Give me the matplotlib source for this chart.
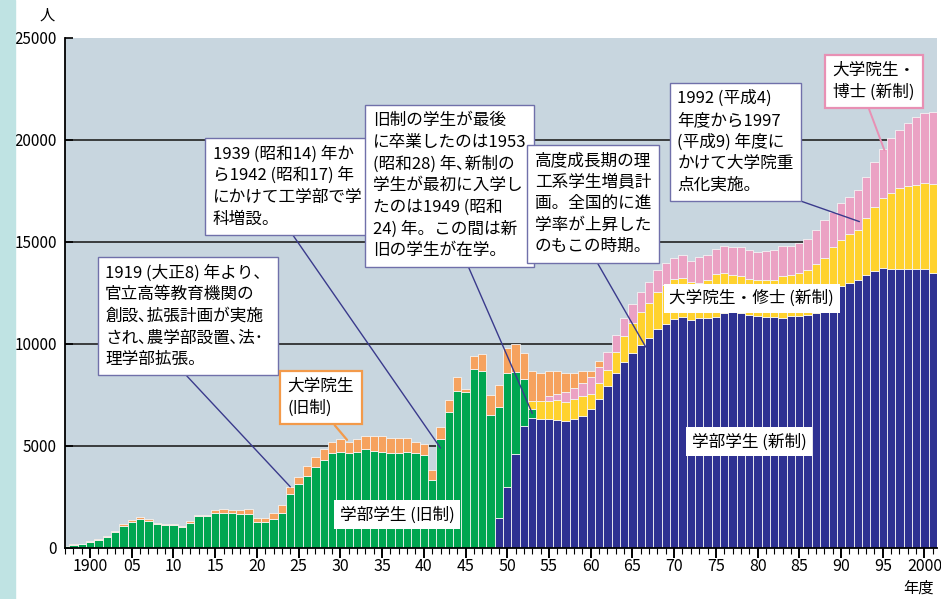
import numpy as np
import matplotlib
matplotlib.use("Agg")
import matplotlib.pyplot as plt
from matplotlib.patches import Rectangle

plt.rcParams['font.family'] = ['Noto Sans CJK JP', 'DejaVu Sans']

# 年度
years = np.arange(1897, 2002)

# 学部学生（旧制） 1897-1953
old_undergrad = [100, 150, 190, 290, 400, 520, 760, 1100, 1260, 1420,
                 1340, 1170, 1130, 1130, 1010, 1240, 1560, 1560, 1700, 1730,
                 1700, 1650, 1670, 1260, 1260, 1420, 1730, 2630, 3120, 3550,
                 3990, 4310, 4670, 4720, 4670, 4720, 4840, 4770, 4720, 4670,
                 4670, 4720, 4640, 4560, 3330, 5330, 6680, 7700, 7630, 8770,
                 8690, 6520, 5450, 5560, 4030, 2280, 450]
# 大学院生（旧制） 1897-1961
old_grad = [0, 30, 30, 40, 50, 60, 90, 100, 90, 80,
            60, 60, 50, 50, 50, 90, 70, 60, 180, 160,
            180, 190, 220, 230, 230, 280, 380, 370, 380, 490,
            450, 540, 540, 610, 540, 610, 650, 720, 770, 740,
            710, 660, 540, 520, 490, 590, 570, 700, 150, 640,
            800, 980, 1090, 1230, 1360, 1300, 1470, 1340, 1220, 1130,
            930, 760, 580, 310, 280]
# 学部学生（新制） 1949-2001
new_undergrad = [1450, 3000, 4610, 6000, 6360, 6310, 6310, 6270, 6230, 6310,
                 6470, 6800, 7290, 7960, 8590, 9130, 9540, 9950, 10280, 10720,
                 10980, 11230, 11310, 11180, 11260, 11290, 11310, 11540, 11580, 11500,
                 11420, 11370, 11340, 11340, 11260, 11370, 11370, 11420, 11540, 11600,
                 11750, 12850, 13000, 13150, 13400, 13600, 13750, 13700, 13700, 13680,
                 13700, 13680, 13500]
# 大学院生・修士（新制） 1953-2001
masters = [400, 910, 900, 980, 940, 980, 1000, 750, 780, 770,
           1030, 1260, 1470, 1630, 1710, 1850, 1910, 1940, 1910, 1850,
           1740, 1850, 2110, 1920, 1800, 1830, 1750, 1770, 1800, 1800,
           2070, 2010, 2090, 2200, 2400, 2600, 3020, 2250, 2380, 2440,
           2760, 3100, 3390, 3690, 3930, 4070, 4090, 4200, 4340]
# 大学院生・博士（新制） 1955-2001
doctors = [260, 300, 490, 540, 630, 820, 820, 890, 820, 870,
           950, 990, 1070, 1060, 1060, 1030, 1140, 1040, 1250, 1220,
           1220, 1340, 1360, 1410, 1440, 1350, 1420, 1470, 1470, 1420,
           1470, 1550, 1660, 1880, 1720, 1800, 1810, 1960, 2040, 2240,
           2400, 2690, 2860, 3070, 3350, 3460, 3550]

tick_years = list(range(1900, 2001, 5))
tick_labels = ['1900'] + ['%02d' % (y % 100) for y in tick_years[1:-1]] + ['2000']


def full(start, vals):
    a = np.zeros(len(years))
    i = start - years[0]
    a[i:i + len(vals)] = vals
    return a


# 積み上げ順：新制学部 → 旧制学部 → 修士 → 博士 → 旧制大学院
series = [
    (full(1949, new_undergrad), '#2e3192'),
    (full(1897, old_undergrad), '#00a651'),
    (full(1953, masters), '#ffd22e'),
    (full(1955, doctors), '#eba2c4'),
    (full(1897, old_grad), '#f6a25e'),
]

fig = plt.figure(figsize=(9.41, 5.99), dpi=100)
fig.patches.append(Rectangle((0, 0), 15 / 941, 1, transform=fig.transFigure,
                             color='#bfe3e3', zorder=0))
ax = fig.add_axes([65 / 941, 51 / 599, 872 / 941, 510 / 599])
ax.set_facecolor('#c8d6df')

bottom = np.zeros(len(years))
for vals, col in series:
    m = vals > 0
    ax.bar(years[m], vals[m], bottom=bottom[m], width=1.0, color=col,
           edgecolor='#f4f4f4', linewidth=0.6, zorder=2)
    bottom = bottom + vals

for g in [5000, 10000, 15000, 20000]:
    ax.axhline(g, color='#222222', lw=1.2, zorder=1)

ax.set_xlim(1897.0, 2001.5)
ax.set_ylim(0, 25000)
ax.set_yticks(range(0, 25001, 5000))
ax.set_yticklabels([str(v) for v in range(0, 25001, 5000)], fontsize=11)
ax.set_xticks(tick_years)
ax.set_xticklabels(tick_labels, fontsize=11.5)
ax.set_xticks(range(1897, 2002), minor=True)
ax.tick_params(axis='x', which='major', length=7, width=1.4, direction='out', pad=0)
ax.tick_params(axis='x', which='minor', length=4.5, width=0.8, direction='out')
ax.tick_params(axis='y', length=6, width=1.2, direction='in', pad=6)
for s in ['top', 'right']:
    ax.spines[s].set_visible(False)
for s in ['left', 'bottom']:
    ax.spines[s].set_linewidth(1.3)
    ax.spines[s].set_zorder(5)

fig.text(47 / 941, 1 - 15 / 599, '人', fontsize=11, ha='center', va='center')
fig.text(918 / 941, 1 - 588 / 599, '年度', fontsize=11, ha='center', va='center')

navy_box = dict(boxstyle='square,pad=0.45', fc='white', ec='#7070aa', lw=1.0)
line_kw = dict(arrowstyle='-', color='#3a3a8c', lw=1.0, shrinkA=0, shrinkB=0)
txt_kw = dict(fontsize=12, ha='left', va='top', linespacing=1.35, zorder=6)

ax.annotate('1919 (大正8) 年より、\n官立高等教育機関の\n創設､拡張計画が実施\nされ､農学部設置､法･\n理学部拡張。',
            xy=(1924, 3000), xytext=(1901.8, 13900), bbox=navy_box,
            arrowprops=dict(relpos=(0.45, 0), **line_kw), **txt_kw)
ax.annotate('1939 (昭和14) 年か\nら1942 (昭和17) 年\nにかけて工学部で学\n科増設。',
            xy=(1942, 4900), xytext=(1914.7, 19750), bbox=navy_box,
            arrowprops=dict(relpos=(0.5, 0), **line_kw), **txt_kw)
ax.annotate('旧制の学生が最後\nに卒業したのは1953\n(昭和28) 年､新制の\n学生が最初に入学し\nたのは1949 (昭和\n24) 年。この間は新\n旧の学生が在学。',
            xy=(1953, 6600), xytext=(1933.9, 21370), bbox=navy_box,
            arrowprops=dict(relpos=(0.6, 0), **line_kw), **txt_kw)
ax.annotate('高度成長期の理\n工系学生増員計\n画。全国的に進\n学率が上昇した\nのもこの時期。',
            xy=(1966.6, 9850), xytext=(1953.3, 19410), bbox=navy_box,
            arrowprops=dict(relpos=(0.5, 0), **line_kw), **txt_kw)
ax.annotate('1992 (平成4)\n年度から1997\n(平成9) 年度に\nかけて大学院重\n点化実施。',
            xy=(1992.2, 16000), xytext=(1970.4, 22450), bbox=navy_box,
            arrowprops=dict(relpos=(0.88, 0), **line_kw), **txt_kw)
ax.annotate('大学院生・\n博士 (新制)',
            xy=(1995.2, 19500), xytext=(1989.0, 23820),
            bbox=dict(boxstyle='square,pad=0.45', fc='white', ec='#e890b4', lw=1.6),
            arrowprops=dict(arrowstyle='-', color='#e890b4', lw=1.4, relpos=(0.4, 0),
                            shrinkA=0, shrinkB=0), **txt_kw)
ax.annotate('大学院生\n(旧制)',
            xy=(1930.8, 5300), xytext=(1923.7, 8330),
            bbox=dict(boxstyle='square,pad=0.45', fc='white', ec='#f39a4a', lw=1.6),
            arrowprops=dict(arrowstyle='-', color='#f39a4a', lw=1.6, relpos=(0.6, 0),
                            shrinkA=0, shrinkB=0), **txt_kw)

plain_box = dict(boxstyle='square,pad=0.35', fc='white', ec='none')
ax.text(1936.8, 1620, '学部学生 (旧制)', fontsize=12, ha='center', va='center',
        bbox=plain_box, zorder=6)
ax.text(1979.0, 5200, '学部学生 (新制)', fontsize=12, ha='center', va='center',
        bbox=plain_box, zorder=6)
ax.text(1979.3, 12250, '大学院生・修士 (新制)', fontsize=12, ha='center', va='center',
        bbox=plain_box, zorder=6)

fig.savefig('out.png', dpi=100)
